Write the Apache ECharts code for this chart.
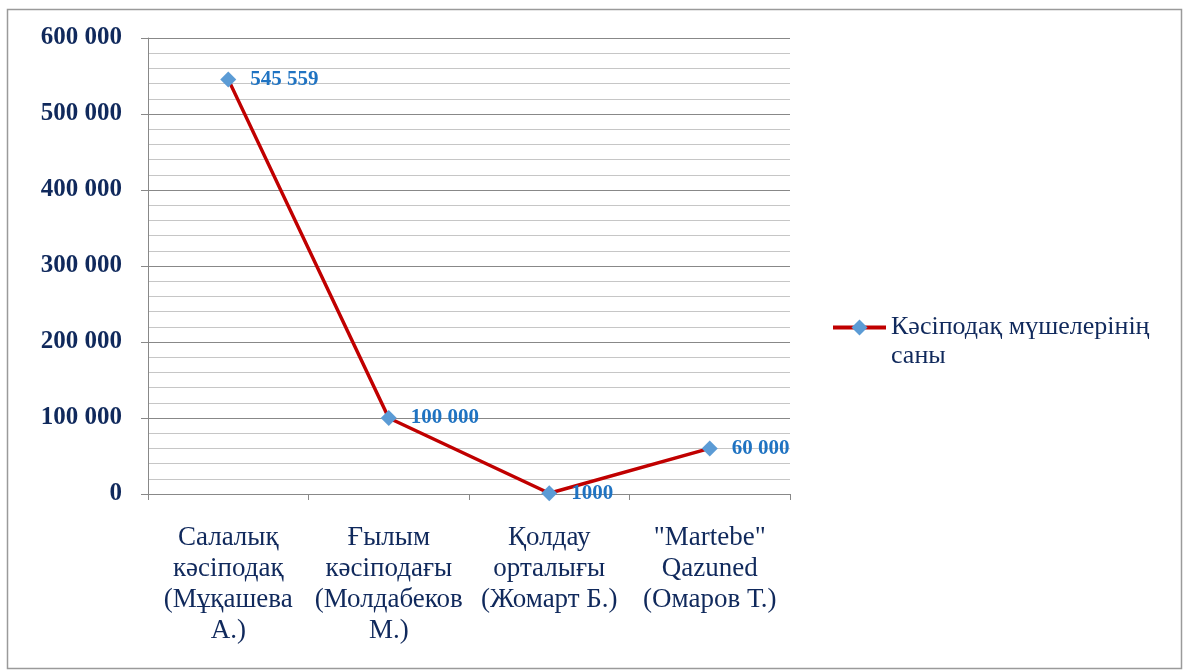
<!DOCTYPE html>
<html>
<head>
<meta charset="utf-8">
<script src="https://cdn.jsdelivr.net/npm/echarts@6/dist/echarts.min.js"></script>
<style>
html,body{margin:0;padding:0;background:#fff;}
#chart{width:1184px;height:671px;}
</style>
</head>
<body>
<div id="chart"></div>
<script>
const categories = [
  'Салалық\nкәсіподақ\n(Мұқашева\nА.)',
  'Ғылым\nкәсіподағы\n(Молдабеков\nМ.)',
  'Қолдау\nорталығы\n(Жомарт Б.)',
  '"Martebe"\nQazuned\n(Омаров Т.)'
];
const seriesName = 'Кәсіподақ мүшелерінің саны';
const members = [545559, 100000, 1000, 60000];
const valueLabels = ['545 559', '100 000', '1000', '60 000'];
const yMin = 0, yMax = 600000, yInterval = 100000;

const serif = "'Liberation Serif', 'DejaVu Serif', serif";
const navy = '#10295c';

function fmt(v) {
  return String(v).replace(/\B(?=(\d{3})+(?!\d))/g, ' ');
}

const chart = echarts.init(document.getElementById('chart'), null, {renderer: 'canvas'});
chart.setOption({
  backgroundColor: '#fff',
  animation: false,
  graphic: [{
    type: 'rect',
    shape: {x: 7.5, y: 9.5, width: 1174, height: 659},
    style: {fill: 'none', stroke: '#9a9a9a', lineWidth: 1.5},
    z: -1
  }],
  grid: {left: 148, right: 394, top: 38, bottom: 177, containLabel: false},
  legend: {
    show: true,
    left: 831,
    top: 284,
    padding: 0,
    orient: 'vertical',
    itemWidth: 53,
    itemHeight: 20,
    itemGap: 4,
    data: [seriesName],
    lineStyle: {width: 4},
    formatter: name => ' \n' + name.replace(' саны', '\nсаны'),
    textStyle: {
      fontFamily: serif,
      fontSize: 26,
      color: navy,
      lineHeight: 29
    }
  },
  xAxis: {
    type: 'category',
    data: categories,
    boundaryGap: true,
    axisLine: {show: true, lineStyle: {color: '#888', width: 1}},
    axisTick: {show: true, length: 6, alignWithLabel: false, lineStyle: {color: '#888'}},
    axisLabel: {
      interval: 0,
      margin: 28,
      fontFamily: serif,
      fontSize: 27,
      lineHeight: 31,
      color: navy,
      align: 'center'
    },
    splitLine: {show: false}
  },
  yAxis: {
    type: 'value',
    min: yMin,
    max: yMax,
    interval: yInterval,
    axisLine: {show: true, lineStyle: {color: '#888', width: 1}},
    axisTick: {show: true, length: 7, lineStyle: {color: '#888'}},
    minorTick: {show: false, splitNumber: 5},
    minorSplitLine: {show: true, lineStyle: {color: '#c6c6c6', width: 1}},
    splitLine: {show: true, lineStyle: {color: '#888', width: 1}},
    axisLabel: {
      margin: 26,
      fontFamily: serif,
      fontSize: 25,
      fontWeight: 'bold',
      color: navy,
      formatter: fmt
    }
  },
  series: [{
    name: seriesName,
    type: 'line',
    data: members,
    symbol: 'diamond',
    symbolSize: 16,
    itemStyle: {color: '#5b9bd5'},
    lineStyle: {color: '#c00000', width: 3.5},
    label: {
      show: true,
      position: 'right',
      distance: 14,
      fontFamily: serif,
      fontSize: 21,
      fontWeight: 'bold',
      color: '#1f73c2',
      formatter: p => valueLabels[p.dataIndex]
    },
    z: 3
  }]
});
</script>
</body>
</html>
